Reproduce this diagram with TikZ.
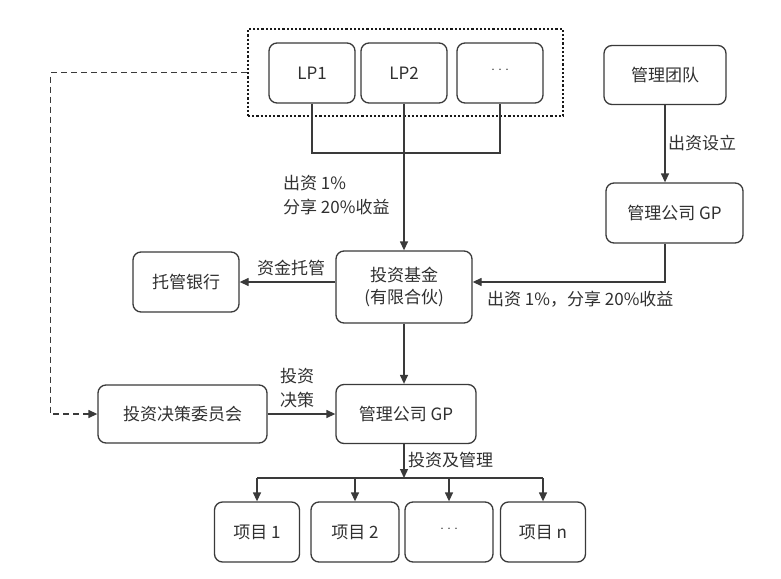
\documentclass[tikz,border=0pt]{standalone}
\usepackage{fontspec}
\setmainfont{Noto Sans CJK SC}
\usetikzlibrary{arrows.meta}
\definecolor{ln}{HTML}{3A3A3A}
\definecolor{tx}{HTML}{303030}
\tikzset{
  box/.style={draw=ln, line width=1.3pt, rounded corners=8pt, fill=white, align=center, text=tx, font=\fontsize{17}{22}\selectfont, inner sep=0pt},
  lbl/.style={text=tx, font=\fontsize{17}{24}\selectfont, inner sep=0pt, align=left},
  conn/.style={draw=ln, line width=1.3pt},
  arr/.style={conn, -{Triangle[length=9pt,width=8pt]}},
  grpbox/.style={draw=black!90, line width=2.6pt, dash pattern=on 2.2pt off 2pt, inner sep=0pt},
  dsh/.style={dash pattern=on 6pt off 4pt},
  dots/.style={font=\fontsize{7}{7}\selectfont}
}
\begin{document}
\begin{tikzpicture}[x=1pt,y=-1pt]
\useasboundingbox (0,0) rectangle (781,578);
% LP group
\node[grpbox, minimum width=315pt, minimum height=87pt] (grp) at (405.5,72.5) {};
\node[box, minimum width=86pt, minimum height=60pt] (lp1) at (312,73) {LP1};
\node[box, minimum width=86pt, minimum height=60pt] (lp2) at (404,73) {LP2};
\node[box, minimum width=86pt, minimum height=60pt] (lp3) at (500,73) {\raisebox{5pt}{\fontsize{7}{7}\selectfont ···}};
% right side
\node[box, minimum width=122pt, minimum height=59pt] (team) at (665,75) {管理团队};
\node[box, minimum width=137pt, minimum height=60pt] (gpr) at (674.5,213) {管理公司 GP};
% middle
\node[box, minimum width=136pt, minimum height=72pt] (fund) at (404,287) {投资基金\\(有限合伙)};
\node[box, minimum width=106pt, minimum height=60pt] (bank) at (186,282) {托管银行};
\node[box, minimum width=140pt, minimum height=59pt] (gpm) at (406,414) {管理公司 GP};
\node[box, minimum width=169pt, minimum height=58pt] (cmte) at (182.5,414) {投资决策委员会};
% projects
\node[box, minimum width=85pt, minimum height=60pt] (p1) at (257,532) {项目 1};
\node[box, minimum width=88pt, minimum height=60pt] (p2) at (355,532) {项目 2};
\node[box, minimum width=88pt, minimum height=60pt] (p3) at (449,532) {\raisebox{5pt}{\fontsize{7}{7}\selectfont ···}};
\node[box, minimum width=85pt, minimum height=60pt] (pn) at (543,532) {项目 n};
\coordinate (bus) at (0,478);
\coordinate (lpj) at (0,153);
\coordinate (gpj) at (0,282);
% connectors
\draw[conn] (lp1.south) |- (lpj -| lp2.south) -| (lp3.south);
\draw[arr] (lp2.south) -- (fund.north);
\draw[arr] (team.south) -- (team.south |- gpr.north);
\draw[arr] (team.south |- gpr.south) |- (gpj -| fund.east);
\draw[arr] (gpj -| fund.west) -- (bank.east);
\draw[arr] (fund.south) -- (fund.south |- gpm.north);
\draw[arr] (cmte.east) -- (cmte.east -| gpm.west);
\draw[arr, dsh] (grp.west) -- ++(-196,0) |- (cmte.west);
\draw[arr] (fund.south |- gpm.south) -- (fund.south |- bus);
\draw[conn] (bus -| p1.north) -- (bus -| pn.north);
\foreach \p in {p1,p2,p3,pn} { \draw[arr] (bus -| \p.north) -- (\p.north); }
% labels
\node[lbl, anchor=west] (l1) at (283,195) {出资 1\%\\分享 20\%收益};
\node[lbl, anchor=west] (l2) at (668,143) {出资设立};
\node[lbl] (l3) at (291,268) {资金托管};
\node[lbl, anchor=west] (l4) at (487,299) {出资 1\%，分享 20\%收益};
\node[lbl, align=center] (l5) at (297,388) {投资\\决策};
\node[lbl, anchor=west] (l6) at (408,460) {投资及管理};
\end{tikzpicture}
\end{document}
